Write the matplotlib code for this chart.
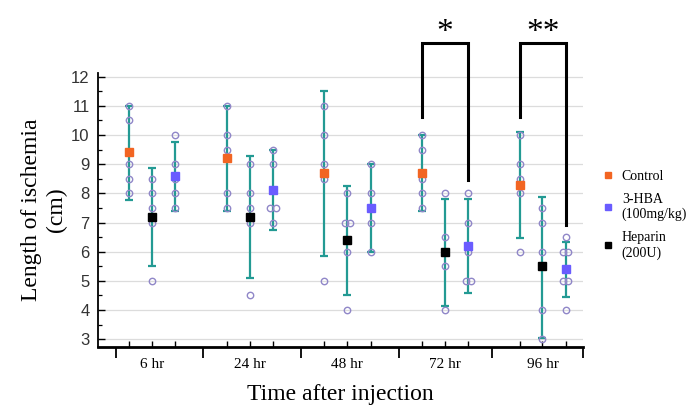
import numpy as np
import matplotlib
matplotlib.use("Agg")
import matplotlib.pyplot as plt
from matplotlib.lines import Line2D

groups = ["6 hr", "24 hr", "48 hr", "72 hr", "96 hr"]

control_points = [[11, 10.5, 9, 8.5, 8], [11, 10, 9.5, 8, 7.5], [11, 10, 9, 8.5, 5],
                  [10, 9.5, 8.5, 8, 7.5], [10, 9, 8.5, 8, 6]]
control_mean = [9.4, 9.2, 8.7, 8.7, 8.3]
control_low = [7.77, 7.4, 5.85, 7.4, 6.46]
control_high = [11.0, 11.0, 11.51, 10.0, 10.1]

heparin_points = [[8.5, 8, 7.5, 7, 5], [9, 8, 7.5, 7, 4.5], [8, 7, 7, 6, 4],
                  [8, 6.5, 6, 5.5, 4], [7.5, 7, 6, 4, 3]]
heparin_mean = [7.2, 7.2, 6.4, 6.0, 5.5]
heparin_low = [5.52, 5.09, 4.52, 4.15, 3.05]
heparin_high = [8.86, 9.28, 8.26, 7.8, 7.88]

hba_points = [[10, 9, 8.5, 8, 7.5], [9.5, 9, 7.5, 7.5, 7], [9, 8, 7.5, 7, 6],
              [8, 7, 6, 5, 5], [6.5, 6, 6, 5, 5, 4]]
hba_mean = [8.6, 8.1, 7.5, 6.2, 5.4]
hba_low = [7.4, 6.74, 6.0, 4.58, 4.44]
hba_high = [9.77, 9.48, 9.0, 7.8, 6.34]

series_labels = ["Control", "3-HBA\n(100mg/kg)", "Heparin\n(200U)"]
sig_labels = ["*", "**"]

SERIF = ["Liberation Serif", "DejaVu Serif"]
SANS = ["Liberation Sans", "DejaVu Sans"]
TEAL = "#239a93"
CIRC = "#9087c8"
colors = {"control": "#f26522", "hba": "#6a5cff", "heparin": "#000000"}

fig = plt.figure(figsize=(6.94, 4.13), dpi=100)
ax = fig.add_axes([0.1412, 0.1598, 0.699, 0.6634])

centers = np.arange(len(groups))
offsets = {"control": -0.235, "heparin": 0.0, "hba": 0.24}
data = {
    "control": (control_points, control_mean, control_low, control_high),
    "heparin": (heparin_points, heparin_mean, heparin_low, heparin_high),
    "hba": (hba_points, hba_mean, hba_low, hba_high),
}

for key in ["control", "heparin", "hba"]:
    pts, mean, low, high = data[key]
    xs = centers + offsets[key]
    mean = np.array(mean)
    yerr = np.vstack([mean - np.array(low), np.array(high) - mean])
    ax.errorbar(xs, mean, yerr=yerr, fmt="none", ecolor=TEAL, elinewidth=1.6,
                capsize=3.2, capthick=1.6, zorder=3)
    for x, p in zip(xs, pts):
        vals, counts = np.unique(p, return_counts=True)
        for v, c in zip(vals, counts):
            if c == 1:
                px = [x]
            else:
                px = list(x + np.linspace(-0.026, 0.026, c))
            ax.plot(px, [v] * len(px), "o", ms=4.6, mfc="none", mec=CIRC, mew=1.0,
                    zorder=4, clip_on=False)
    ax.plot(xs, mean, "s", ms=5.2, color=colors[key], mec=colors[key], zorder=5)

# axes styling
ax.set_xlim(-0.553, 4.416)
ax.set_ylim(2.736, 12.12)
ax.set_yticks(np.arange(3, 13))
ax.set_yticks(np.arange(3, 12.01, 0.5), minor=True)
ax.yaxis.grid(True, which="major", color="#dcdcdc", lw=0.9, zorder=0)
ax.set_axisbelow(True)
for s in ["top", "right"]:
    ax.spines[s].set_visible(False)
ax.spines["left"].set_linewidth(1.3)
ax.spines["bottom"].set_linewidth(2.0)
ax.tick_params(axis="y", which="major", direction="in", length=5, width=1.0,
               labelsize=12, labelcolor="#333333", pad=6)
ax.tick_params(axis="y", which="minor", direction="in", length=3, width=0.9)
for lab in ax.get_yticklabels():
    lab.set_family(SANS)

ax.set_xticks(centers)
ax.set_xticklabels(groups, family=SERIF, fontsize=11)
ax.set_xticks([-0.369, 0.523, 1.527, 2.531, 3.484, 4.416], minor=True)
ax.tick_params(axis="x", which="major", length=0, pad=8)
ax.tick_params(axis="x", which="minor", direction="out", length=8, width=1.3)

sec = ax.secondary_xaxis("bottom")
allx = np.sort(np.concatenate([centers + o for o in offsets.values()]))
sec.set_xticks(allx)
sec.tick_params(direction="in", length=4, width=1.0, labelbottom=False)
sec.spines["bottom"].set_visible(False)

ax.set_ylabel("Length of ischemia\n(cm)", family=SERIF, fontsize=17, labelpad=3,
              linespacing=1.2)
ax.set_xlabel("Time after injection", family=SERIF, fontsize=17, labelpad=9)

# significance brackets
brackets = [(3, 10.61, 8.46), (4, 10.61, 6.91)]
for (g, yl, yr), lab in zip(brackets, sig_labels):
    xl = g + offsets["control"]
    xr = g + offsets["hba"]
    ax.plot([xl, xl, xr, xr], [yl, 13.15, 13.15, yr], color="black", lw=2.2,
            clip_on=False, solid_joinstyle="miter", zorder=6)
    ax.text((xl + xr) / 2, 12.98, lab, ha="center", va="bottom", fontsize=24,
            family=SERIF, clip_on=False)

# legend
handles = [Line2D([], [], marker="s", ls="none", ms=5, color=colors[k])
           for k in ["control", "hba", "heparin"]]
fig.legend(handles, series_labels, loc="upper left", bbox_to_anchor=(0.858, 0.605),
           frameon=False, prop={"family": SERIF, "size": 10}, handlelength=0.8,
           handletextpad=0.6, labelspacing=0.7, borderpad=0)

fig.savefig("out.png", dpi=100)
